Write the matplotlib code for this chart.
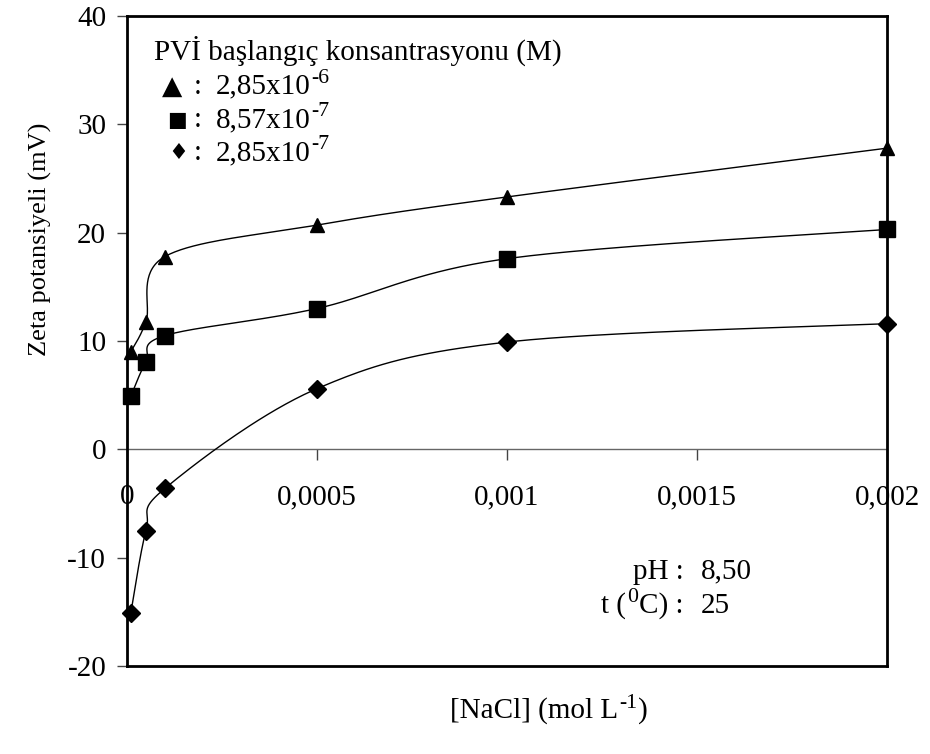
import numpy as np
import matplotlib
matplotlib.use("Agg")
from matplotlib import pyplot as plt

plt.rcParams['font.family'] = ['Liberation Serif', 'DejaVu Sans']

# NaCl concentration (mol/L) and zeta potentials (mV) for each PVI concentration
nacl = [0.00001, 0.00005, 0.0001, 0.0005, 0.001, 0.002]
zeta_285e6 = [9.0, 11.8, 17.8, 20.7, 23.3, 27.8]
zeta_857e7 = [4.9, 8.1, 10.5, 13.0, 17.6, 20.3]
zeta_285e7 = [-15.1, -7.5, -3.6, 5.6, 9.9, 11.6]

x_ticks = [0, 0.0005, 0.001, 0.0015, 0.002]
x_ticklabels = ["0", "0,0005", "0,001", "0,0015", "0,002"]
y_ticks = [-20, -10, 0, 10, 20, 30, 40]
y_ticklabels = ["-20", "-10", "0", "10", "20", "30", "40"]

FS = 21


def smooth_curve(ax, xs, ys, n=40):
    # bezier smoothing done in screen space, like spreadsheet "smoothed lines"
    pts = ax.transData.transform(np.column_stack([xs, ys]))
    ext = np.vstack([pts[0], pts, pts[-1]])
    out = []
    for i in range(len(pts) - 1):
        p0, p3 = ext[i + 1], ext[i + 2]
        c1 = p0 + (ext[i + 2] - ext[i]) / 6.0
        c2 = p3 - (ext[i + 3] - ext[i + 1]) / 6.0
        t = np.linspace(0, 1, n)[:, None]
        seg = ((1 - t) ** 3) * p0 + 3 * ((1 - t) ** 2) * t * c1 + 3 * (1 - t) * t ** 2 * c2 + t ** 3 * p3
        out.append(seg if i == 0 else seg[1:])
    out = np.vstack(out)
    return ax.transData.inverted().transform(out)


def sup_after(ax, base, sup, size=FS):
    # superscript hung on the right top of another text
    return ax.annotate(sup, xy=(1, 0), xycoords=base, xytext=(0.5, 0.41 * size),
                       textcoords='offset points', fontsize=0.75 * size, ha='left', va='bottom')


fig = plt.figure(figsize=(9.3, 7.54), dpi=100)
ax = fig.add_axes([127 / 930, 88 / 754, 760 / 930, 650 / 754])
ax.set_xlim(0, 0.002)
ax.set_ylim(-20, 40)

for side in ['left', 'right', 'top', 'bottom']:
    ax.spines[side].set_linewidth(2.0)
    ax.spines[side].set_color('black')
    ax.spines[side].set_zorder(5)

ax.set_xticks([])
ax.set_yticks(y_ticks)
ax.set_yticklabels(y_ticklabels)
ax.tick_params(axis='y', direction='out', length=7, width=1, pad=8, labelsize=FS, color='#444444')

# x axis crossing at zero
zero_ax = ax.secondary_xaxis(1 / 3)
zero_ax.set_xticks(x_ticks)
zero_ax.set_xticklabels(x_ticklabels)
zero_ax.spines['bottom'].set_linewidth(1.0)
zero_ax.spines['bottom'].set_color('#666666')
zero_ax.tick_params(axis='x', direction='out', length=8, width=1, pad=17, labelsize=FS, color='#444444')

series = [
    (zeta_285e6, '^', 10.5),
    (zeta_857e7, 's', 11.5),
    (zeta_285e7, 'D', 9),
]
for ys, mk, ms in series:
    curve = smooth_curve(ax, nacl, ys)
    ax.plot(curve[:, 0], curve[:, 1], color='black', linewidth=1.0, zorder=3, clip_on=False)
    ax.plot(nacl, ys, linestyle='none', marker=mk, markersize=ms, color='black', zorder=6, clip_on=False)

# legend written as text block
tx = ax.transAxes
ax.text(0.036, 0.946, "PVİ başlangıç konsantrasyonu (M)", transform=tx, fontsize=FS, va='center', ha='left')
legend_rows = [
    ("▲", 0.059, 0.891, 19, "2,85x10", "-6"),
    ("■", 0.066, 0.840, 15, "8,57x10", "-7"),
    ("♦", 0.067, 0.789, 16, "2,85x10", "-7"),
]
for sym, xs, yy, ssize, val, exp in legend_rows:
    ax.text(xs, yy, sym, transform=tx, fontsize=ssize, va='center', ha='center', family='DejaVu Sans')
    ax.text(0.093, yy, ":", transform=tx, fontsize=FS, va='center', ha='center')
    v = ax.text(0.117, yy, val, transform=tx, fontsize=FS, va='center', ha='left')
    sup_after(ax, v, exp)

# measurement conditions
ax.text(0.732, 0.145, "pH :", transform=tx, fontsize=FS, va='center', ha='right')
ax.text(0.755, 0.145, "8,50", transform=tx, fontsize=FS, va='center', ha='left')
c_part = ax.text(0.732, 0.093, "C) :", transform=tx, fontsize=FS, va='center', ha='right')
deg = ax.annotate("0", xy=(0, 0), xycoords=c_part, xytext=(-0.5, 0.41 * FS),
                  textcoords='offset points', fontsize=0.75 * FS, ha='right', va='bottom')
ax.annotate("t (", xy=(0, 0), xycoords=(deg, c_part), xytext=(-0.5, 0),
            textcoords='offset points', fontsize=FS, ha='right', va='bottom')
ax.text(0.755, 0.093, "25", transform=tx, fontsize=FS, va='center', ha='left')

fig.text(40 / 930, 1 - 239 / 754, "Zeta potansiyeli (mV)", rotation=90, fontsize=19, va='center', ha='center')
xl = fig.text(450 / 930, 1 - 711 / 754, "[NaCl] (mol L", fontsize=FS, va='center', ha='left')
xs_ = sup_after(ax, xl, "-1")
ax.annotate(")", xy=(1, 0), xycoords=(xs_, xl), xytext=(0.5, 0),
            textcoords='offset points', fontsize=FS, ha='left', va='bottom')

fig.savefig("out.png", dpi=100)
